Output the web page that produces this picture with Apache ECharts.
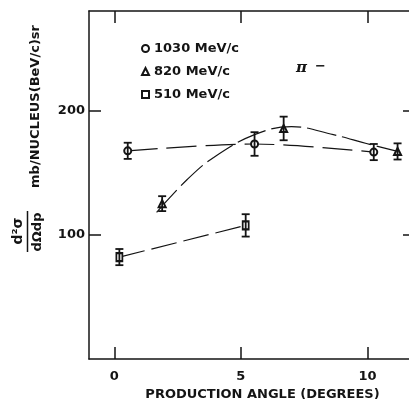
<!DOCTYPE html>
<html>
<head>
<meta charset="utf-8">
<script src="https://cdn.jsdelivr.net/npm/echarts@6/dist/echarts.min.js"></script>
<style>
  html, body { margin: 0; padding: 0; background: #fff; }
  #chart { width: 409px; height: 399px; }
</style>
</head>
<body>
<div id="chart"></div>
<script>
// pi-minus production cross sections, mb / nucleus (BeV/c) sr, vs. production angle (degrees)
const angle1030 = [0.53, 5.54, 10.25];
const value1030 = [167.5, 173, 166.5];
const error1030 = [6.5, 9.5, 6.5];

const angle820 = [1.89, 6.69, 11.19];
const value820 = [125, 185.5, 167];
const error820 = [6, 9.5, 6.5];

const angle510 = [0.2, 5.19];
const value510 = [82, 107.5];
const error510 = [6.5, 9];

// hand-drawn guide curve through the 820 MeV/c points
const guide820Angle = [1.67, 2.86, 3.91, 5.54, 7.0, 8.65, 9.96, 11.19];
const guide820Value = [118, 144, 162, 180.5, 187, 180.5, 173.4, 167];

const xTicks = [0, 5, 10];
const yTicks = [100, 200];

const ink = '#141414';
const font = 'DejaVu Sans';

const zip = (xs, ys) => xs.map((x, i) => [x, ys[i]]);
const zip3 = (xs, ys, es) => xs.map((x, i) => [x, ys[i], es[i]]);

function renderErrorBar(params, api) {
  const x = api.value(0), y = api.value(1), e = api.value(2);
  const hi = api.coord([x, y + e]);
  const lo = api.coord([x, y - e]);
  const half = 4;
  const style = { stroke: ink, lineWidth: 1.8 };
  return {
    type: 'group',
    children: [
      { type: 'line', shape: { x1: hi[0], y1: hi[1], x2: lo[0], y2: lo[1] }, style },
      { type: 'line', shape: { x1: hi[0] - half, y1: hi[1], x2: hi[0] + half, y2: hi[1] }, style },
      { type: 'line', shape: { x1: lo[0] - half, y1: lo[1], x2: lo[0] + half, y2: lo[1] }, style }
    ]
  };
}

function errorSeries(name, data) {
  return {
    name, type: 'custom', renderItem: renderErrorBar, data, z: 5,
    encode: { x: 0, y: 1 }, silent: true
  };
}

const axisLine = { show: true, onZero: false, lineStyle: { color: ink, width: 1.5 } };
const tickStyle = { color: ink, width: 1.5 };
const labelStyle = { fontSize: 13, fontWeight: 'bold', fontFamily: font, color: ink };

const chart = echarts.init(document.getElementById('chart'), null, { renderer: 'canvas' });

chart.setOption({
  animation: false,
  backgroundColor: '#fff',
  // the frame runs slightly past the right edge of the page
  grid: { left: 89, top: 11, width: 324, height: 348, outerBoundsMode: 'none' },
  xAxis: [
    {
      type: 'value', min: -1, max: 11.8, position: 'bottom',
      axisLine, splitLine: { show: false },
      axisTick: { show: true, inside: true, length: 12, customValues: xTicks, lineStyle: tickStyle },
      axisLabel: Object.assign({ margin: 11, customValues: xTicks }, labelStyle),
      name: 'PRODUCTION ANGLE (DEGREES)', nameLocation: 'middle', nameGap: 27,
      nameTextStyle: { fontSize: 13, fontWeight: 'bold', fontFamily: font, color: ink, padding: [0, 0, 0, 23] }
    },
    {
      type: 'value', min: -1, max: 11.8, position: 'top',
      axisLine, splitLine: { show: false },
      axisTick: { show: true, inside: true, length: 12, customValues: xTicks, lineStyle: tickStyle },
      axisLabel: { show: false }
    }
  ],
  yAxis: [
    {
      type: 'value', min: 0, max: 280, position: 'left',
      axisLine, splitLine: { show: false },
      axisTick: { show: true, inside: true, length: 12, customValues: yTicks, lineStyle: tickStyle },
      axisLabel: Object.assign({ margin: 4, customValues: yTicks }, labelStyle)
    },
    {
      type: 'value', min: 0, max: 280, position: 'right',
      axisLine, splitLine: { show: false },
      axisTick: { show: true, inside: true, length: 10, customValues: yTicks, lineStyle: tickStyle },
      axisLabel: { show: false }
    }
  ],
  legend: {
    orient: 'vertical', left: 136, top: 37,
    itemWidth: 7, itemHeight: 7, itemGap: 10,
    textStyle: { fontSize: 13, fontWeight: 'bold', fontFamily: font, color: ink },
    data: [
      { name: '1030 MeV/c', icon: 'emptyCircle' },
      { name: '820 MeV/c', icon: 'emptyTriangle' },
      { name: '510 MeV/c', icon: 'emptyRect' }
    ]
  },
  graphic: [
    // ordinate title: d²σ/dΩdp mb/NUCLEUS(BeV/c)sr, written bottom to top
    {
      type: 'text', x: 36, y: 106.5, rotation: Math.PI / 2,
      style: { text: 'mb/NUCLEUS(BeV/c)sr', font: 'bold 13px "DejaVu Sans"', fill: ink, align: 'center', verticalAlign: 'middle' }
    },
    {
      type: 'text', x: 18, y: 231, rotation: Math.PI / 2,
      style: { text: 'd²σ', font: 'bold 14px "DejaVu Sans"', fill: ink, align: 'center', verticalAlign: 'middle' }
    },
    {
      type: 'line', shape: { x1: 27.5, y1: 211, x2: 27.5, y2: 252 },
      style: { stroke: ink, lineWidth: 1.5 }
    },
    {
      type: 'text', x: 38, y: 232, rotation: Math.PI / 2,
      style: { text: 'dΩdp', font: 'bold 13px "DejaVu Sans"', fill: ink, align: 'center', verticalAlign: 'middle' }
    },
    // particle label
    {
      type: 'text', x: 296, y: 60,
      style: {
        text: '{p|π}{m|−}',
        rich: {
          p: { font: 'italic bold 15px "DejaVu Serif"', fill: ink },
          m: { font: 'bold 13px "DejaVu Sans"', fill: ink, padding: [0, 0, 4, 8] }
        }
      }
    }
  ],
  series: [
    {
      name: '1030 MeV/c', type: 'line', data: zip(angle1030, value1030),
      smooth: 0.3, symbol: 'emptyCircle', symbolSize: 7,
      lineStyle: { color: ink, width: 1.2, type: [30, 9] },
      itemStyle: { color: ink, borderWidth: 1.2 }, z: 3
    },
    {
      name: '820 MeV/c', type: 'line', data: zip(angle820, value820),
      symbol: 'emptyTriangle', symbolSize: 7,
      lineStyle: { width: 0 },
      itemStyle: { color: ink, borderWidth: 1.2 }, z: 3
    },
    {
      name: '820 guide', type: 'line', data: zip(guide820Angle, guide820Value),
      smooth: 0.4, showSymbol: false, silent: true,
      lineStyle: { color: ink, width: 1.2, type: [30, 6] }, z: 2
    },
    {
      name: '510 MeV/c', type: 'line', data: zip(angle510, value510),
      symbol: 'emptyRect', symbolSize: [6, 8],
      lineStyle: { color: ink, width: 1.2, type: [26, 7] },
      itemStyle: { color: ink, borderWidth: 1.2 }, z: 3
    },
    errorSeries('1030 err', zip3(angle1030, value1030, error1030)),
    errorSeries('820 err', zip3(angle820, value820, error820)),
    errorSeries('510 err', zip3(angle510, value510, error510))
  ]
});
</script>
</body>
</html>
